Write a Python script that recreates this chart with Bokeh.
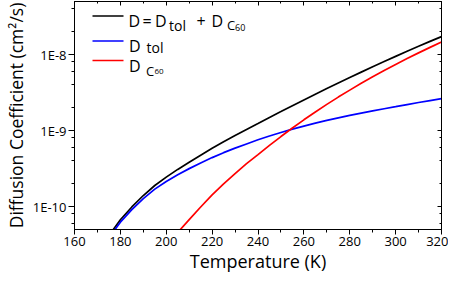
import math
from bokeh.plotting import figure
from bokeh.models import (Range1d, FixedTicker, SingleIntervalTicker, LinearAxis,
                          LogAxis, CustomJSTickFormatter, Label)
from bokeh.embed import file_html
from bokeh.resources import INLINE

# ---------------- data ----------------
T = [176, 180, 185, 190, 195, 200, 205, 210, 215, 220, 225, 230, 235, 240, 245, 250,
     255, 260, 265, 270, 275, 280, 285, 290, 295, 300, 305, 310, 315, 320]
D_total = [4.58e-11, 6.71e-11, 9.90e-11, 1.400e-10, 1.896e-10, 2.442e-10, 3.087e-10,
           3.835e-10, 4.75e-10, 5.845e-10, 7.124e-10, 8.611e-10, 1.0356e-9, 1.2417e-9,
           1.4908e-9, 1.7796e-9, 2.126e-9, 2.535e-9, 3.011e-9, 3.578e-9, 4.233e-9,
           4.997e-9, 5.886e-9, 6.925e-9, 8.114e-9, 9.478e-9, 1.107e-8, 1.288e-8,
           1.493e-8, 1.725e-8]
D_tol = [4.27e-11, 6.24e-11, 9.12e-11, 1.274e-10, 1.698e-10, 2.138e-10, 2.63e-10,
         3.162e-10, 3.758e-10, 4.416e-10, 5.129e-10, 5.888e-10, 6.683e-10, 7.586e-10,
         8.511e-10, 9.44e-10, 1.045e-9, 1.148e-9, 1.253e-9, 1.365e-9, 1.472e-9,
         1.585e-9, 1.698e-9, 1.820e-9, 1.941e-9, 2.065e-9, 2.203e-9, 2.344e-9,
         2.483e-9, 2.63e-9]
T_c60 = [200, 205, 210, 215, 220, 225, 230, 235, 240, 245, 250, 255, 260, 265, 270,
         275, 280, 285, 290, 295, 300, 305, 310, 315, 320]
D_c60 = [3.04e-11, 4.57e-11, 6.73e-11, 9.89e-11, 1.429e-10, 1.995e-10, 2.723e-10,
         3.673e-10, 4.831e-10, 6.397e-10, 8.356e-10, 1.081e-9, 1.387e-9, 1.758e-9,
         2.213e-9, 2.761e-9, 3.412e-9, 4.188e-9, 5.105e-9, 6.173e-9, 7.413e-9,
         8.87e-9, 1.054e-8, 1.245e-8, 1.462e-8]

y_ticks_major = [1e-10, 1e-9, 1e-8]
y_ticks_minor = [6e-11, 8e-11, 2e-10, 4e-10, 6e-10, 8e-10, 2e-9, 4e-9, 6e-9, 8e-9, 2e-8, 4e-8]
X_MIN, X_MAX = 160, 320
Y_MIN, Y_MAX = 5e-11, 5e-8

# ---------------- layout ----------------
FW, FH = 367, 228
FONT = "Open Sans"

p = figure(frame_width=FW, frame_height=FH,
           x_range=Range1d(X_MIN, X_MAX), y_range=Range1d(Y_MIN, Y_MAX),
           y_axis_type="log", output_backend="svg", toolbar_location=None,
           min_border_left=66, min_border_right=7, min_border_top=1, min_border_bottom=0,
           background_fill_color="white", border_fill_color="white")
p.grid.visible = False
p.outline_line_color = "black"
p.outline_line_width = 1

# bottom axis
xa = p.xaxis[0]
xa.ticker = SingleIntervalTicker(interval=20, num_minor_ticks=2)
xa.axis_label = "Temperature (K)"
xa.axis_label_text_font = FONT
xa.axis_label_text_font_size = "18px"
xa.axis_label_text_font_style = "normal"
xa.axis_label_text_color = "black"
xa.axis_label_standoff = 0
xa.major_label_text_font = FONT
xa.major_label_text_font_size = "13px"
xa.major_label_text_color = "black"
xa.major_label_standoff = 2
xa.major_tick_out = 5
xa.major_tick_in = 0
xa.minor_tick_out = 3
xa.minor_tick_in = 0
xa.axis_line_color = "black"
xa.major_tick_line_color = "black"
xa.minor_tick_line_color = "black"

# left axis
ya = p.yaxis[0]
ya.ticker = FixedTicker(ticks=y_ticks_major, minor_ticks=y_ticks_minor)
ya.formatter = CustomJSTickFormatter(code="return '1E' + Math.round(Math.log10(tick));")
ya.axis_label = "Diffusion Coefficient (cm\u00b2/s)"
ya.axis_label_text_font = FONT
ya.axis_label_text_font_size = "17.5px"
ya.axis_label_text_font_style = "normal"
ya.axis_label_text_color = "black"
ya.axis_label_standoff = 2
ya.major_label_text_font = FONT
ya.major_label_text_font_size = "13px"
ya.major_label_text_color = "black"
ya.major_label_standoff = 2
ya.major_tick_out = 6
ya.major_tick_in = 0
ya.minor_tick_out = 3
ya.minor_tick_in = 0
ya.axis_line_color = "black"
ya.major_tick_line_color = "black"
ya.minor_tick_line_color = "black"

blank = "return '';"
top = LinearAxis(ticker=SingleIntervalTicker(interval=20, num_minor_ticks=2),
                 formatter=CustomJSTickFormatter(code=blank),
                 major_tick_in=4, major_tick_out=0, minor_tick_in=2, minor_tick_out=0,
                 major_label_standoff=0, major_label_text_font_size="1px")
p.add_layout(top, "above")
right = LogAxis(ticker=FixedTicker(ticks=y_ticks_major, minor_ticks=y_ticks_minor),
                formatter=CustomJSTickFormatter(code=blank),
                major_tick_in=4, major_tick_out=0, minor_tick_in=2, minor_tick_out=0,
                major_label_standoff=0, major_label_text_font_size="1px")
p.add_layout(right, "right")

# curves
p.line(T, D_total, line_color="#000000", line_width=1.7)
p.line(T, D_tol, line_color="#0000ff", line_width=1.7)
p.line(T_c60, D_c60, line_color="#ff0000", line_width=1.7)

# ---------------- hand-made legend (pixel offsets from frame top-left) ----------------
LOGSPAN = math.log10(Y_MAX / Y_MIN)

def pos(dx, dy):
    return (X_MIN + dx * (X_MAX - X_MIN) / FW,
            10 ** (math.log10(Y_MAX) - dy * LOGSPAN / FH))

for dy, col in [(14.5, "#000000"), (39.5, "#0000ff"), (59.0, "#ff0000")]:
    (x0, y0), (x1, _) = pos(18, dy), pos(49, dy)
    p.segment(x0=[x0], y0=[y0], x1=[x1], y1=[y0], line_color=col, line_width=1.7)

pieces = [
    ("D", 54, 19.5, "16px"), ("=", 68, 19.5, "16px"), ("D", 80.5, 19.5, "16px"),
    ("tol", 94.5, 23.5, "14px"), ("+", 122, 19.5, "16px"), ("D", 137, 19.5, "16px"),
    ("C", 152.5, 23.5, "13px"), ("60", 160.5, 25.5, "9px"),
    ("D", 54.5, 44.0, "16px"), ("tol", 72, 45.5, "14px"),
    ("D", 54.5, 64.0, "16px"), ("C", 71.5, 69.0, "13px"), ("60", 80, 70.0, "8px"),
]
for txt, dx, dy, fs in pieces:
    x, y = pos(dx, dy)
    p.add_layout(Label(x=x, y=y, text=txt, text_font=FONT, text_font_size=fs,
                       text_align="left", text_baseline="alphabetic", text_color="black"))

open("out.html", "w").write(file_html(p, INLINE))
